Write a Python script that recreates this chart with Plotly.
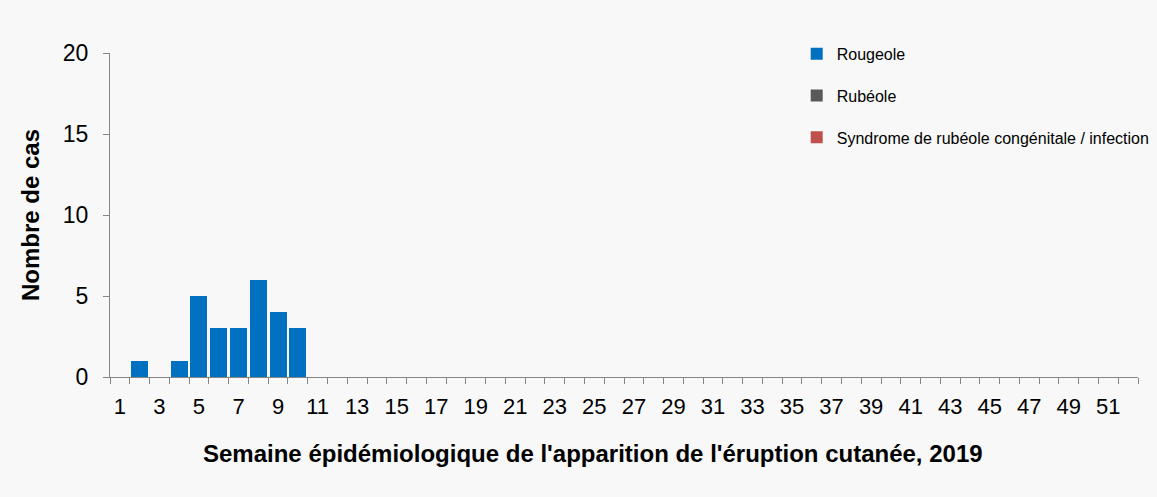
import plotly.graph_objects as go

# semaines épidémiologiques 1..52
semaines = list(range(1, 53))
rougeole = [0, 1, 0, 1, 5, 3, 3, 6, 4, 3] + [0] * 42
rubeole = [0] * 52
src = [0] * 52

series = [
    ("Rougeole", rougeole, "#0070C0"),
    ("Rubéole", rubeole, "#595959"),
    ("Syndrome de rubéole congénitale / infection", src, "#C0504D"),
]

fig = go.Figure()
for i, (nom, vals, couleur) in enumerate(series):
    fig.add_trace(go.Bar(x=semaines, y=vals, name=nom, marker_color=couleur,
                         marker_line_width=0, legendgroup=str(i)))

fig.update_layout(
    barmode="stack",
    bargap=0.14,
    width=1157, height=497,
    margin=dict(l=110, r=19, t=53, b=120, autoexpand=False),
    paper_bgcolor="#f8f8f8",
    plot_bgcolor="#f8f8f8",
    font=dict(family="Arial, Liberation Sans", color="#000000"),
    showlegend=True,
    legend=dict(x=0.668, y=1.05, xanchor="left", yanchor="top",
                font=dict(size=16), tracegroupgap=18, bgcolor="rgba(0,0,0,0)",
                itemwidth=30),
    xaxis=dict(
        range=[0.5, 52.5],
        tickmode="array",
        tickvals=list(range(1, 52, 2)),
        ticks="outside", ticklen=10, tickcolor="rgba(0,0,0,0)",
        tickfont=dict(size=22),
        showline=True, linecolor="#868686", linewidth=1,
        showgrid=False, zeroline=False,
        minor=dict(tickmode="linear", tick0=0.5, dtick=1, ticks="outside",
                   ticklen=6, tickcolor="#868686", showgrid=False),
    ),
    yaxis=dict(
        range=[0, 20],
        tickvals=[0, 5, 10, 15, 20],
        ticks="outside", ticklen=6, tickcolor="#868686",
        ticklabelstandoff=10,
        tickfont=dict(size=23),
        showline=True, linecolor="#868686", linewidth=1,
        showgrid=False, zeroline=False,
        title=dict(text="<b>Nombre de cas</b>", font=dict(size=24), standoff=16),
    ),
    annotations=[dict(
        text="<b>Semaine épidémiologique de l'apparition de l'éruption cutanée, 2019</b>",
        xref="paper", yref="paper", x=(593 - 110) / 1028, y=-0.235,
        xanchor="center", yanchor="middle", showarrow=False,
        font=dict(size=24),
    )],
)

fig.write_html("out.html", config={"displayModeBar": False},
               post_script="document.body.style.margin='0';document.body.style.overflow='hidden';")
